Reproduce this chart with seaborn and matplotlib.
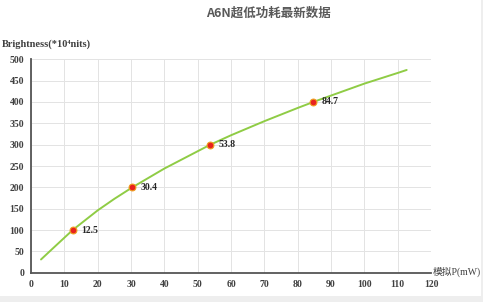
import matplotlib
matplotlib.use("Agg")
import matplotlib.pyplot as plt
import matplotlib.patches as mpatches
import seaborn as sns
import pandas as pd

# Curve
curve_x = [3, 6.7, 12.5, 20, 25, 30.4, 40, 53.8, 60, 70, 80, 84.7, 90, 100, 110, 112.7]
curve_y = [31, 58, 100, 146, 173, 200, 244, 300, 322, 355, 386, 400, 415, 443, 468, 475]

# Marked points
point_x = [12.5, 30.4, 53.8, 84.7]
point_y = [100, 200, 300, 400]
point_labels = ["12.5", "30.4", "53.8", "84.7"]

x_ticks = list(range(0, 121, 10))
y_ticks = list(range(0, 501, 50))

title = "A6N超低功耗最新数据"
y_label = "Brightness(*10⁴nits)"
x_label = "模拟P(mW)"

sns.set_theme(style="white")
plt.rcParams['font.family'] = ['Liberation Serif', 'DejaVu Serif', 'Noto Sans CJK SC']

W, H = 483, 302
fig = plt.figure(figsize=(W / 100, H / 100), dpi=100)
fig.patch.set_facecolor("#eeeeee")
bg = mpatches.Rectangle((0, 1 - 296 / H), 481 / W, 296 / H,
                        transform=fig.transFigure, facecolor="white",
                        edgecolor="none", zorder=-5)
fig.patches.append(bg)

ax = fig.add_axes([31 / W, 1 - 272.7 / H, 400 / W, (272.7 - 59.3) / H])
ax.set_zorder(2)
ax.set_facecolor("white")

df_curve = pd.DataFrame({"x": curve_x, "y": curve_y})
df_pts = pd.DataFrame({"x": point_x, "y": point_y})

sns.lineplot(data=df_curve, x="x", y="y", ax=ax, color="#8fcc45", linewidth=1.4,
             sort=True, zorder=3, solid_joinstyle="round")
sns.scatterplot(data=df_pts, x="x", y="y", ax=ax, color="#e8231f", edgecolor="#f0a020",
                linewidth=0.8, s=24, zorder=4)

for xv, yv, lab in zip(point_x, point_y, point_labels):
    ax.annotate(lab, (xv, yv), xytext=(6, 0), textcoords="offset points",
                ha="left", va="center", fontsize=7, fontweight="bold", color="#262626",
                family=['Liberation Serif', 'DejaVu Serif'])

ax.set_xlim(0, 120)
ax.set_ylim(0, 500)
ax.set_xticks(x_ticks)
ax.set_yticks(y_ticks)
ax.set_xticklabels([str(v) for v in x_ticks], fontsize=7, fontweight="bold", color="#404040")
ax.set_yticklabels([str(v) for v in y_ticks], fontsize=7, fontweight="bold", color="#404040")
ax.tick_params(axis="both", length=0, pad=5)
ax.grid(True, color="#e3e3e3", linewidth=0.7)
ax.set_axisbelow(True)

for s in ["top", "right"]:
    ax.spines[s].set_visible(False)
for s in ["left", "bottom"]:
    ax.spines[s].set_color("#555555")
    ax.spines[s].set_linewidth(1.3)
ax.set_xlabel("")
ax.set_ylabel("")

fig.text(268 / W, 1 - 13 / H, title, ha="center", va="center", fontsize=9,
         fontweight="bold", color="#595959", family=['Noto Sans CJK SC', 'DejaVu Sans'])
fig.text(2 / W, 1 - 44 / H, y_label, ha="left", va="center", fontsize=7.5,
         fontweight="bold", color="#404040", family=['Liberation Serif', 'DejaVu Serif'])
fig.text(433 / W, 1 - 272 / H, x_label, ha="left", va="center", fontsize=7,
         color="#404040", family=['Liberation Serif', 'Noto Sans CJK SC'])

fig.savefig("out.png", dpi=100, facecolor=fig.get_facecolor())
